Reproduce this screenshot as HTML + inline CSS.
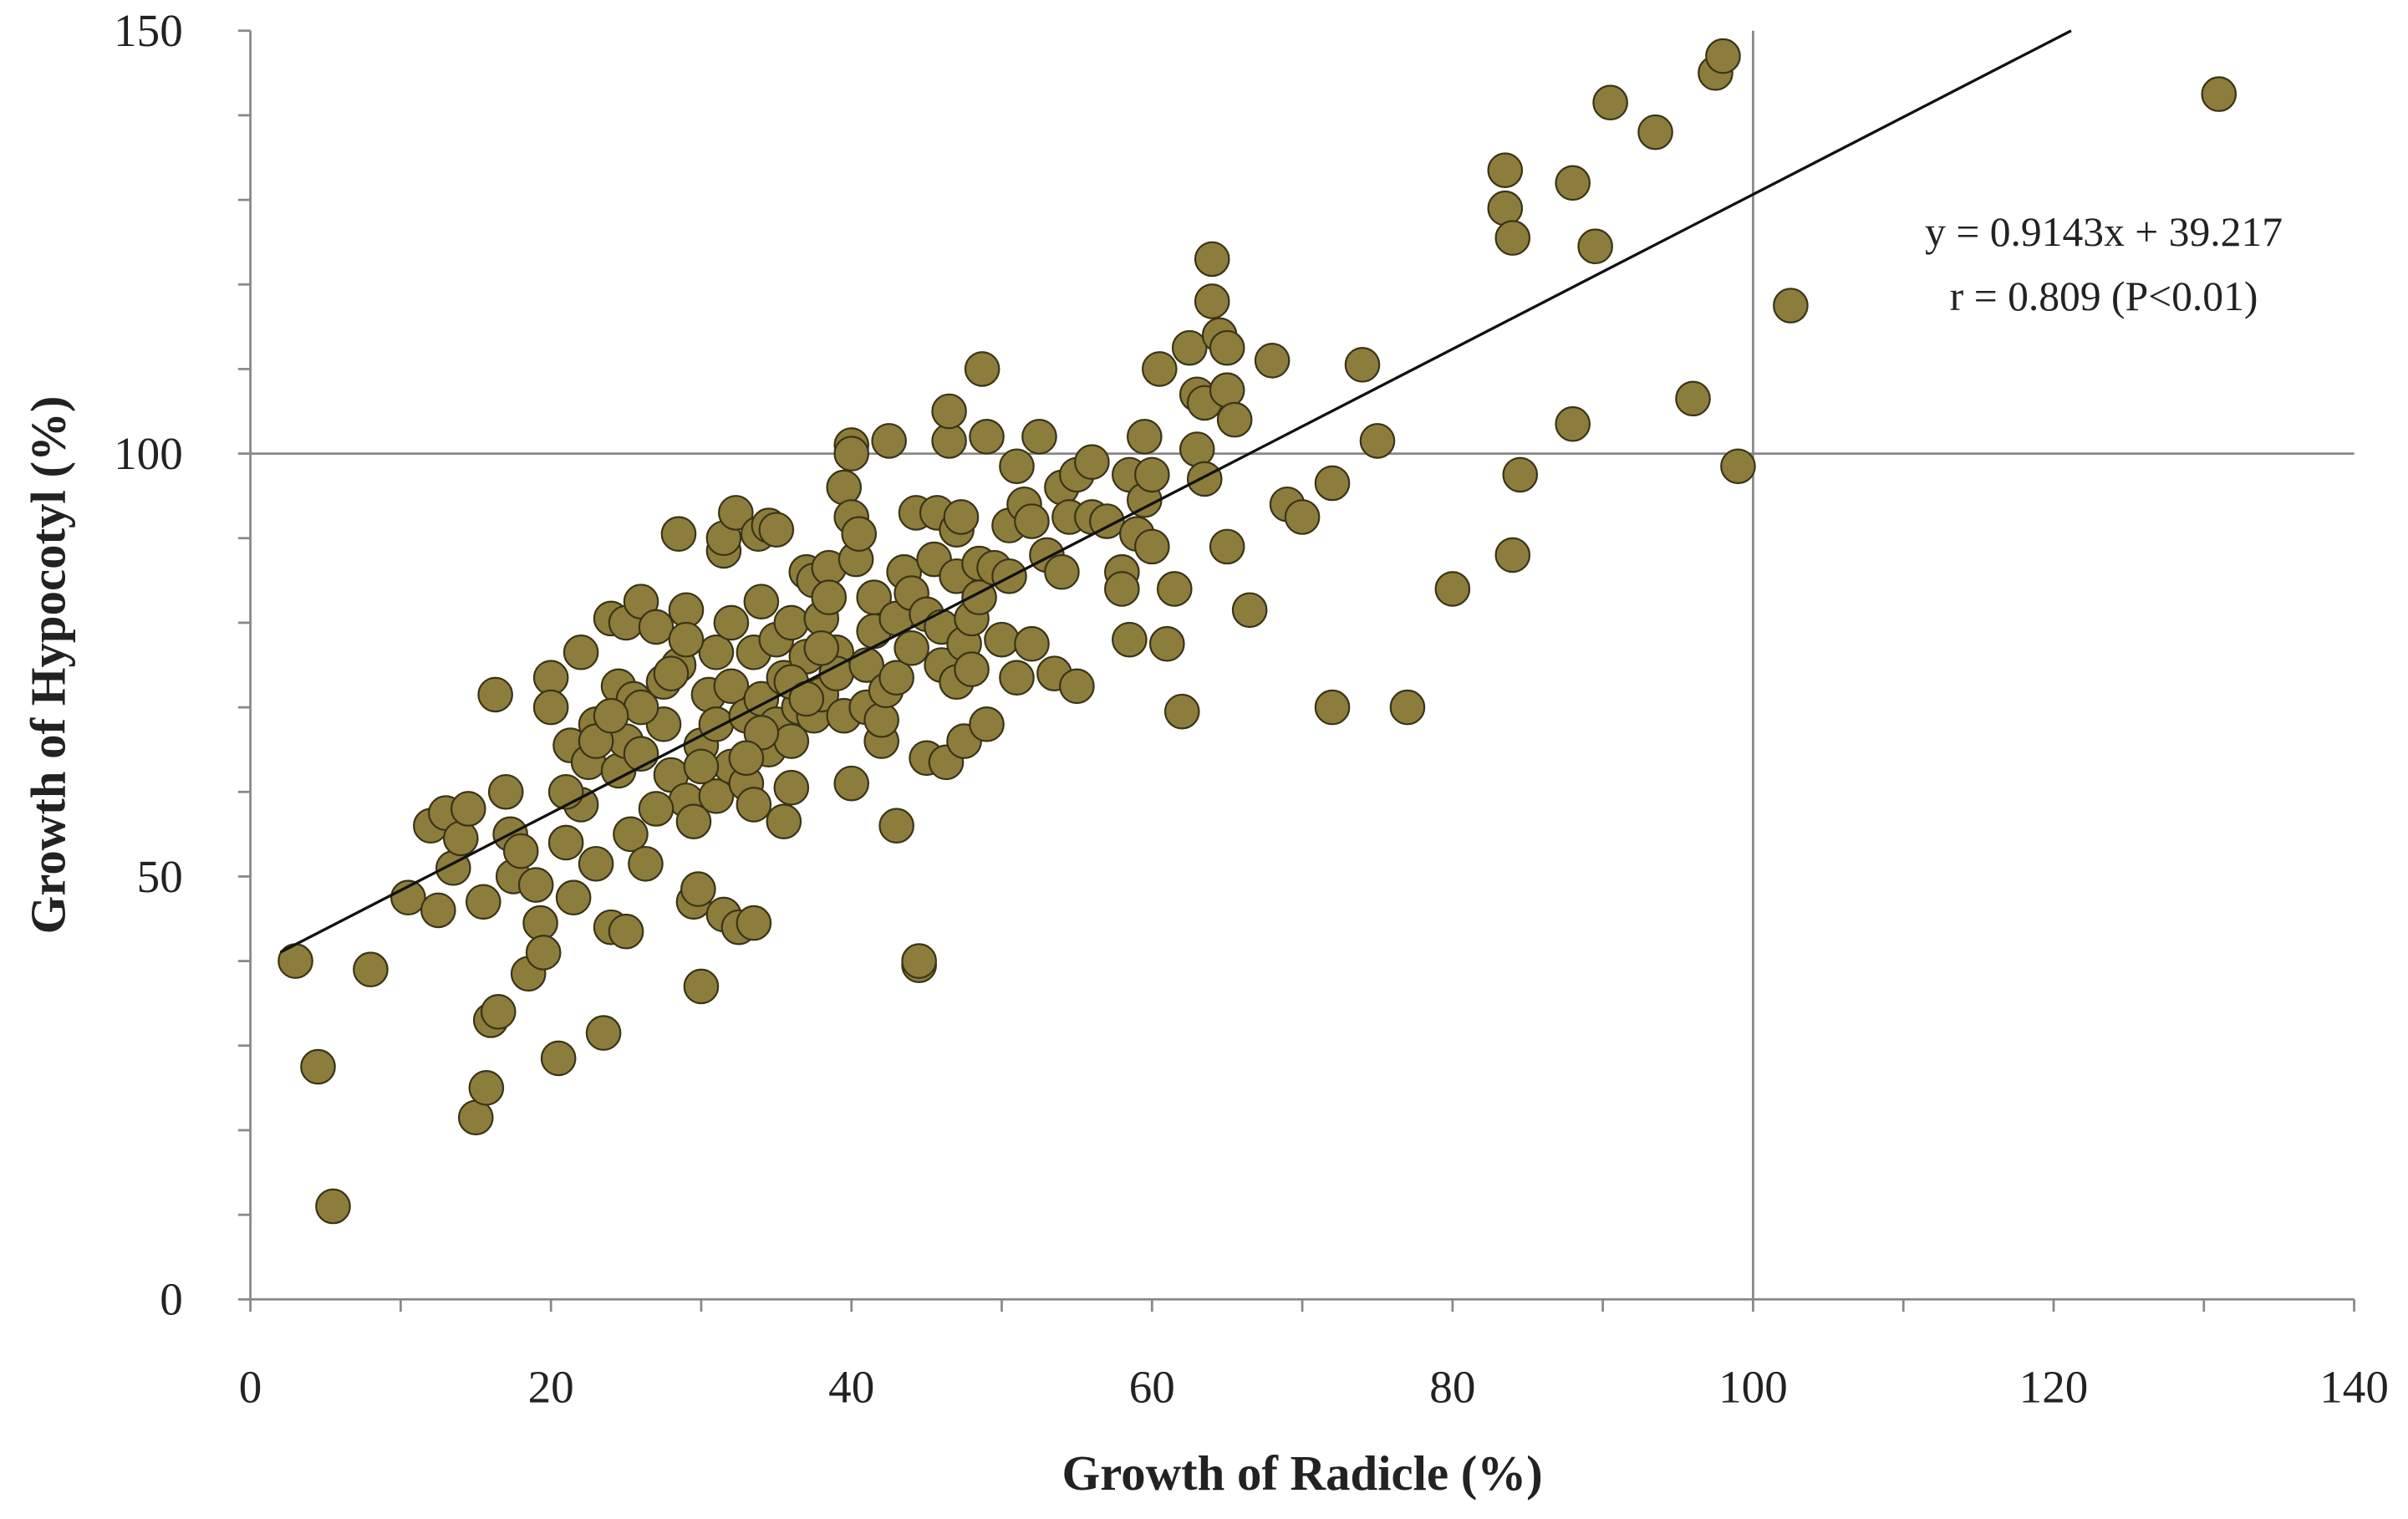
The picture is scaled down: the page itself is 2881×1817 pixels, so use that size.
<!DOCTYPE html>
<html><head><meta charset="utf-8"><style>
html,body{margin:0;padding:0;background:#fff;}
svg{display:block;}
text{font-family:"Liberation Serif",serif;fill:#222;}
</style></head><body>
<svg id="chart" width="2881" height="1817" viewBox="0 0 1568 989" xmlns="http://www.w3.org/2000/svg">
<g id="grid"></g><g id="axes"></g><g id="pts"></g><g id="fit"></g>
<text x="1370" y="160" font-size="27" text-anchor="middle">y = 0.9143x + 39.217</text>
<text x="1370" y="202" font-size="27" text-anchor="middle">r = 0.809 (P&lt;0.01)</text>
<text x="848" y="970" font-size="32" font-weight="bold" text-anchor="middle">Growth of Radicle (%)</text>
<text transform="translate(42,433) rotate(-90)" font-size="32" font-weight="bold" text-anchor="middle">Growth of Hypocotyl (%)</text>
</svg>
<script>
const xTicks=[0,10,20,30,40,50,60,70,80,90,100,110,120,130,140];
const xLabels=[0,20,40,60,80,100,120,140];
const yTicks=[0,10,20,30,40,50,60,70,80,90,100,110,120,130,140,150];
const yLabels=[0,50,100,150];
const slope=0.9143, intercept=39.217;
const xs=[3,4.5,5.5,8,10.5,12,12.5,13,13.5,14,14.5,15,15.5,15.7,16,16.3,16.5,17,17.3,17.5,18,18.5,19,19.3,19.5,20,20,20.5,21,21.3,21.5,22,22,22.5,23,23,23.5,24,24,24.5,24.5,25,25,25,25.3,25.5,26,26,26.3,27,27.5,27.5,28,28.5,28.5,29,29,29.5,29.5,29.8,30,30,30.5,31,31,31,31.5,31.5,31.5,32,32,32,32.3,32.5,33,33,33.5,33.5,33.5,33.8,34,34,34.5,34.5,35,35,35,35.5,35.5,36,36,36,36.5,37,37,37.5,37.5,38,38,38.5,38.5,39,39,39.5,39.5,40,40,40,40,40.3,40.5,41,41,41.5,41.5,42,42,42.3,42.5,43,43,43,43.5,44,44,44.3,44.5,44.5,45,45,45.5,45.7,46,46,46.3,46.5,46.5,47,47,47,47.3,47.5,47.5,48,48,48.5,48.5,48.7,49,49,49.5,50,50.5,50.5,51,51,51.5,52,52,52.5,53,53.5,54,54,54.5,55,55,56,56,57,58,58,58.5,58.5,59,59.5,59.5,60,60,60.5,61,61.5,62,62.5,63,63,63.5,63.5,64,64,64.5,65,65,65,65.5,66.5,68,69,70,72,72,74,75,77,80,83.5,83.5,84,84,84.5,88,88,89.5,90.5,93.5,96,97.5,98,99,102.5,131,21,23,26,28,30,34,36,38,27,24,29,33,37];
const ys=[40,27.5,11,39,47.5,56,46,57.5,51,54.5,58,21.5,47,25,33,71.5,34,60,55,50,53,38.5,49,44.5,41,73.5,70,28.5,54,65.5,47.5,76.5,58.5,63.5,68,51.5,31.5,80.5,44,72.5,62.5,80,66,43.5,55,71,82.5,64.5,51.5,79.5,73,68,62,90.5,75,81.5,59,47,56.5,48.5,37,65.5,71.5,76.5,68,59.5,45.5,88.5,90,80,72.5,63,93,44,69,61,58.5,44.5,76.5,90.5,82.5,71,65,91.5,78,68,91,73.5,56.5,80,66,60.5,70,86,76,85,69,80.5,71.5,86.5,83,76.5,74,96,69,101,100,92.5,61,87.5,90.5,75,70,79,83,66,68.5,72,101.5,56,80.5,73.5,86,77,83.5,93,39.5,40,64,81,87.5,93,75,79.5,63.5,101.5,105,91,85.5,73,92.5,66,77.5,80.5,74.5,87,83,110,102,68,86.5,78,91.5,85.5,73.5,98.5,94,92,77.5,102,88,74,86,96,92.5,72.5,97.5,99,92.5,92,86,84,78,97.5,90.5,102,94.5,89,97.5,110,77.5,84,69.5,112.5,107,100.5,97,106,123,118,114,112.5,89,107.5,104,81.5,111,94,92.5,96.5,70,110.5,101.5,70,84,133.5,129,125.5,88,97.5,132,103.5,124.5,141.5,138,106.5,145,147,98.5,117.5,142.5,60,66,70,74,63,67,73,77,58,69,78,64,71];
const X=v=>163+v*(1370/140), Y=v=>846-v*(826/150);
const NS="http://www.w3.org/2000/svg";
function mk(tag,attrs,parent){const e=document.createElementNS(NS,tag);for(const k in attrs)e.setAttribute(k,attrs[k]);parent.appendChild(e);return e;}
const grid=document.getElementById('grid'),axes=document.getElementById('axes'),pts=document.getElementById('pts'),fit=document.getElementById('fit');
let r1=mk('line',{x1:X(100),y1:Y(150),x2:X(100),y2:Y(0),stroke:'#888','stroke-width':1.5},grid);


let r2=mk('line',{x1:X(0),y1:Y(100),x2:X(140),y2:Y(100),stroke:'#888','stroke-width':1.5},grid);


let ax=mk('line',{x1:X(0),y1:Y(0),x2:X(140),y2:Y(0),stroke:'#888','stroke-width':1.5},axes);


let ay=mk('line',{x1:X(0),y1:Y(0),x2:X(0),y2:Y(150),stroke:'#888','stroke-width':1.5},axes);


xTicks.forEach(t=>{const l=mk('line',{x1:X(t),y1:Y(0),x2:X(t),y2:Y(0)+8,stroke:'#888','stroke-width':1.5},axes);

});
xLabels.forEach(t=>{const e=mk('text',{x:X(t),y:Y(0)+67,'font-size':30,'text-anchor':'middle'},axes);e.textContent=t;

});
yTicks.forEach(t=>{const l=mk('line',{x1:X(0)-8,y1:Y(t),x2:X(0),y2:Y(t),stroke:'#888','stroke-width':1.5},axes);

});
yLabels.forEach(t=>{const e=mk('text',{x:119,y:Y(t)+10,'font-size':30,'text-anchor':'end'},axes);e.textContent=t;

});
xs.forEach((v,i)=>{const c=mk('circle',{cx:X(v),cy:Y(ys[i]),r:11,fill:'#8c7d3c',stroke:'#3a3418','stroke-width':1.2},pts);

});
const x0=2,x1=(150-intercept)/slope;
const fl=mk('line',{x1:X(x0),y1:Y(slope*x0+intercept),x2:X(x1),y2:Y(slope*x1+intercept),stroke:'#111','stroke-width':1.8},fit);


</script>
</body></html>
